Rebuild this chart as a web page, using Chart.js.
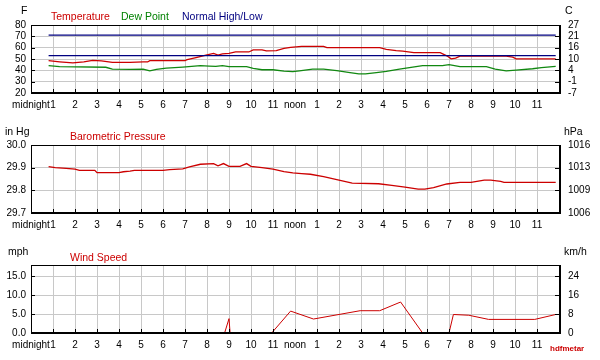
<!DOCTYPE html>
<html>
<head>
<meta charset="utf-8">
<script src="https://cdn.jsdelivr.net/npm/chart.js@4"></script>
<style>
  body { margin: 0; background: #fff; }
  #wrap { position: relative; width: 600px; height: 360px; font-family: Arial, "Liberation Sans", sans-serif; }
  canvas { position: absolute; left: 0; }
  .t { position: absolute; font-size: 10.5px; line-height: 12px; white-space: nowrap; }
  .red { color: #cc0000; }
  .green { color: #008000; }
  .navy { color: #000080; }
</style>
</head>
<body>
<div id="wrap">
  <canvas id="temp" width="600" height="120" style="top:0"></canvas>
  <canvas id="pres" width="600" height="120" style="top:120px"></canvas>
  <canvas id="wind" width="600" height="120" style="top:240px"></canvas>

  <span class="t" style="left:21px;top:4px">F</span>
  <span class="t red" style="left:51px;top:10px">Temperature</span>
  <span class="t green" style="left:121px;top:10px">Dew Point</span>
  <span class="t navy" style="left:182px;top:10px">Normal High/Low</span>
  <span class="t" style="left:565px;top:4px">C</span>

  <span class="t" style="left:5px;top:125px">in Hg</span>
  <span class="t red" style="left:70px;top:130px">Barometric Pressure</span>
  <span class="t" style="left:564px;top:125px">hPa</span>

  <span class="t" style="left:8px;top:245px">mph</span>
  <span class="t red" style="left:70px;top:251px">Wind Speed</span>
  <span class="t" style="left:564px;top:245px">km/h</span>
  <span class="t red" style="left:550px;top:343px;font-size:8px;font-weight:bold">hdfmetar</span>
</div>
<script>
// hours after midnight for each reading, and the readings
const tempHours = [0.8, 1.3, 1.9, 2.4, 2.8, 3.2, 3.7, 4.5, 5.1, 5.3, 5.4, 7.0, 7.1, 7.5, 8.0, 8.3, 8.5, 8.7, 9.0, 9.3, 9.9, 10.1, 10.5, 10.7, 11.15, 11.5, 11.8, 12.3, 13.3, 13.45, 15.85, 16.15, 16.6, 16.9, 17.4, 18.6, 18.9, 19.1, 19.3, 19.5, 21.6, 21.9, 22.05, 23.85];
const tempF = [48.5, 47.5, 46.5, 47.5, 48.8, 48.3, 47, 47, 47.4, 47.4, 48.6, 48.6, 49.5, 51.3, 53.7, 54.9, 53.4, 54.6, 54.9, 56.2, 56.2, 58, 58, 57.2, 57.4, 59.4, 60.3, 61.2, 61.2, 60, 60, 58.5, 57.4, 56.9, 55.6, 55.6, 52.8, 50.1, 50.7, 52.5, 52.5, 51.6, 50.1, 50.1];

const dewHours = [0.8, 1.3, 3.4, 3.7, 4.5, 5.1, 5.4, 5.7, 6.15, 6.9, 7.7, 8.1, 8.4, 8.7, 9.0, 9.8, 10.1, 10.5, 11.0, 11.5, 11.9, 12.2, 12.8, 13.3, 13.9, 14.5, 14.9, 15.2, 15.7, 16.15, 16.75, 17.35, 17.8, 18.7, 19.0, 19.5, 20.7, 21.1, 21.6, 22.05, 22.8, 23.2, 23.85];
const dewF = [44.1, 43.2, 42.7, 41.1, 40.8, 41.1, 39.6, 40.8, 42, 42.9, 44.1, 43.8, 43.5, 44.1, 43.2, 43.2, 41.7, 40.5, 40.5, 39.3, 38.8, 39.6, 41.1, 41.1, 39.8, 38, 36.8, 36.8, 38, 39, 41.1, 42.9, 44.1, 44.1, 45, 43.2, 43.2, 41.1, 39.6, 40.2, 41.4, 42.3, 43.5];

const normalHours = [0.8, 23.85];
const normalHigh = [71, 71];
const normalLow = [53, 53];

const presHours = [0.8, 1.1, 1.6, 2.0, 2.2, 2.9, 3.0, 4.0, 4.2, 4.5, 4.7, 6.0, 6.3, 6.9, 7.2, 7.7, 8.3, 8.5, 8.75, 9.0, 9.5, 9.8, 10.0, 10.5, 11.0, 11.5, 11.9, 12.3, 12.7, 13.3, 14.0, 14.6, 15.8, 16.4, 17.0, 17.6, 17.9, 18.3, 18.9, 19.5, 20.0, 20.6, 20.9, 21.35, 21.5, 23.85];
const presIn = [29.905, 29.9, 29.897, 29.894, 29.888, 29.888, 29.878, 29.878, 29.882, 29.885, 29.888, 29.888, 29.891, 29.895, 29.903, 29.915, 29.918, 29.908, 29.918, 29.906, 29.906, 29.918, 29.906, 29.9, 29.894, 29.883, 29.877, 29.874, 29.871, 29.86, 29.845, 29.832, 29.829, 29.822, 29.814, 29.805, 29.805, 29.812, 29.828, 29.835, 29.835, 29.845, 29.845, 29.84, 29.835, 29.835];

const windHours = [0.8, 8.8, 9.0, 9.05, 10.94, 11.8, 12.84, 14.96, 15.85, 16.8, 17.8, 19.0, 19.2, 19.9, 20.8, 22.9, 23.85];
const windMph = [0, 0, 3.8, 0, 0, 5.8, 3.7, 5.9, 5.9, 8.2, 0, 0, 4.9, 4.7, 3.6, 3.6, 4.9];

const hourLabel = v => v === 0 ? 'midnight' : v === 12 ? 'noon' : v === 24 ? '' : String(v % 12);

Chart.defaults.font.family = 'Arial, "Liberation Sans", sans-serif';
Chart.defaults.font.size = 10;
Chart.defaults.color = '#000';

const pts = (xs, ys) => xs.map((x, i) => ({ x: x, y: ys[i] }));
const line = (label, xs, ys, color, w) => ({
  label, data: pts(xs, ys), borderColor: color, borderWidth: w,
  pointRadius: 0, tension: 0, fill: false
});

// plot frame plus short inward tick marks
const framePlugin = {
  id: 'frame',
  afterDraw(chart) {
    const { ctx, chartArea: a, scales } = chart;
    ctx.save();
    ctx.strokeStyle = '#000';
    ctx.lineWidth = 1;
    ctx.beginPath();
    scales.x.ticks.forEach(t => {
      const px = Math.round(scales.x.getPixelForValue(t.value)) + 0.5;
      ctx.moveTo(px, a.bottom); ctx.lineTo(px, a.bottom - 4);
    });
    scales.y.ticks.forEach(t => {
      const py = Math.round(scales.y.getPixelForValue(t.value)) + 0.5;
      ctx.moveTo(a.left, py); ctx.lineTo(a.left + 4, py);
      ctx.moveTo(a.right, py); ctx.lineTo(a.right - 4, py);
    });
    ctx.stroke();
    ctx.strokeRect(a.left + 0.5, a.top + 0.5, a.right - a.left, a.bottom - a.top);
    ctx.lineWidth = 2;
    ctx.beginPath();
    ctx.moveTo(a.left, a.bottom); ctx.lineTo(a.right + 1, a.bottom); ctx.lineTo(a.right + 1, a.top);
    ctx.stroke();
    ctx.restore();
  }
};

function makeChart(id, datasets, yMin, yMax, yStep, leftFmt, rightFmt) {
  new Chart(document.getElementById(id), {
    type: 'line',
    data: { datasets },
    plugins: [framePlugin],
    options: {
      responsive: false,
      animation: false,
      events: [],
      layout: { padding: { top: 25, left: 0, right: 0, bottom: 0 } },
      plugins: { legend: { display: false }, tooltip: { enabled: false } },
      scales: {
        x: {
          type: 'linear', min: 0, max: 24,
          grid: { color: '#c8c8c8', drawTicks: false },
          border: { display: false },
          ticks: { stepSize: 1, autoSkip: false, maxRotation: 0, minRotation: 0, padding: 6, callback: hourLabel },
          afterFit: s => { s.height = 27; }
        },
        y: {
          position: 'left', min: yMin, max: yMax,
          grid: { color: '#c8c8c8', drawTicks: false },
          border: { display: false },
          ticks: { stepSize: yStep, autoSkip: false, padding: 5, callback: leftFmt },
          afterFit: s => { s.width = 31; }
        },
        y2: {
          position: 'right', min: yMin, max: yMax,
          grid: { display: false, drawTicks: false },
          border: { display: false },
          ticks: { stepSize: yStep, autoSkip: false, padding: 9, callback: rightFmt },
          afterFit: s => { s.width = 41; }
        }
      }
    }
  });
}

makeChart('temp', [
  line('Normal High', normalHours, normalHigh, '#000080', 1.2),
  line('Normal Low', normalHours, normalLow, '#000080', 1.2),
  line('Dew Point', dewHours, dewF, '#118811', 1.3),
  line('Temperature', tempHours, tempF, '#cc0000', 1.3)
], 20, 80, 10, v => String(v), v => String(Math.round((v - 32) * 5 / 9)));

makeChart('pres', [
  line('Barometric Pressure', presHours, presIn, '#cc0000', 1.3)
], 29.7, 30.0, 0.1, v => v.toFixed(1), v => String(Math.round(v * 33.8639)));

makeChart('wind', [
  line('Wind Speed', windHours, windMph, '#cc0000', 1)
], 0, 18, 5, v => (v % 5 === 0 ? v.toFixed(1) : ''), v => (v % 5 === 0 ? String(Math.round(v * 1.609)) : ''));
</script>
</body>
</html>
